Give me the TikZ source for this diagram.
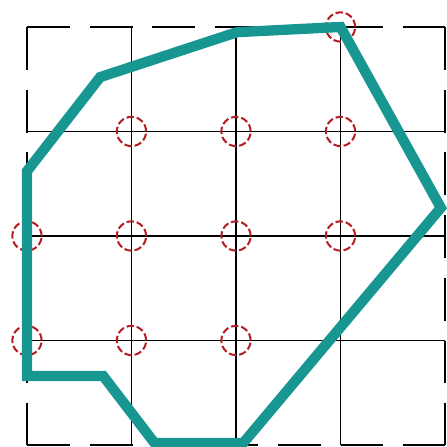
\documentclass[tikz,border=0pt]{standalone}
\usepackage{tikz}
\definecolor{tealline}{RGB}{24,150,146}
\definecolor{holered}{RGB}{180,30,35}

\begin{document}
\begin{tikzpicture}[
    gridline/.style={line width=0.5pt, black},
    borderline/.style={line width=0.5pt, black, dash pattern=on 0.41cm off 0.19cm},
    hole/.style={circle, draw=holered, line width=0.55pt, dash pattern=on 2pt off 0.8pt,
                 minimum size=0.28cm, inner sep=0pt},
    outline/.style={line width=2.8pt, tealline}
  ]
    % 参数设置
    \def\m{4} % 每边格数

    % 图片边界
    \useasboundingbox (-0.258,-0.019) rectangle (4.010,4.258);

    % 内部网格线
    \foreach \i in {1,...,3} {
      \draw[gridline] (\i,0) -- (\i,\m);
      \draw[gridline] (0,\i) -- (\m,\i);
    }

    % 外框虚线（都从左上角开始）
    \draw[borderline] (0,\m) -- (\m,\m);
    \draw[borderline] (0,\m) -- (0,0);
    \draw[borderline] (0,0) -- (\m,0);
    \draw[borderline] (\m,\m) -- (\m,0);

    % 红色圆圈（格点）
    \foreach \x/\y in {3/4, 1/3, 2/3, 3/3, 0/2, 1/2, 2/2, 3/2, 0/1, 1/1, 2/1} {
      \node[hole] (h\x\y) at (\x,\y) {};
    }

    % 多边形顶点
    \coordinate (v1) at (3,4);
    \coordinate (v2) at (2.01,3.95);
    \coordinate (v3) at (0.70,3.52);
    \coordinate (v4) at (0,2.62);
    \coordinate (v5) at (0,0.66);
    \coordinate (v6) at (0.73,0.66);
    \coordinate (v7) at (1.22,0.02);
    \coordinate (v8) at (2.07,0.02);
    \coordinate (v9) at (3.96,2.27);

    % 青色边界
    \draw[outline] (v1) -- (v2) -- (v3) -- (v4) -- (v5) -- (v6) -- (v7) -- (v8) -- (v9) -- cycle;
\end{tikzpicture}
\end{document}
